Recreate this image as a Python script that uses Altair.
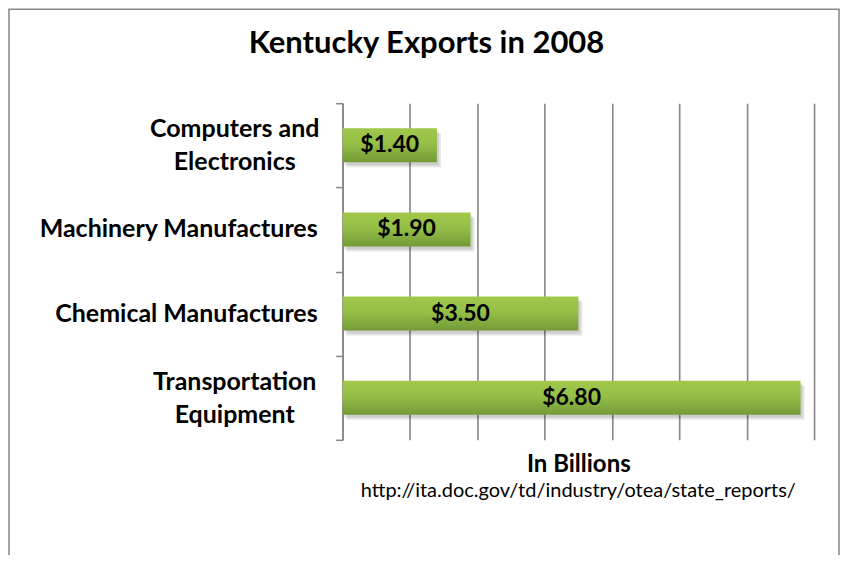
import altair as alt
import pandas as pd

categories = ["Computers and|Electronics", "Machinery Manufactures",
              "Chemical Manufactures", "Transportation|Equipment"]
values = [1.40, 1.90, 3.50, 6.80]
x_ticks = [0, 1, 2, 3, 4, 5, 6, 7]
title_text = "Kentucky Exports in 2008"
x_title = "In Billions"
source_text = "http://ita.doc.gov/td/industry/otea/state_reports/"

df = pd.DataFrame({"category": categories, "value": values})

FONT = "Lato"
GRID = "#868686"
W, H = 472, 337

y_enc = alt.Y(
    "category:N", sort=categories,
    scale=alt.Scale(paddingInner=0, paddingOuter=0),
    axis=alt.Axis(title=None, labels=False, tickBand="extent",
                  tickSize=7, tickColor=GRID, tickWidth=1.5,
                  domainColor=GRID, domainWidth=1.5, grid=False),
)
x_axis = alt.Axis(values=x_ticks, labels=False, ticks=False, domain=False,
                  grid=True, gridColor=GRID, gridWidth=1.6, title=x_title,
                  titleFont=FONT, titleFontSize=24, titleFontWeight="bold",
                  titleColor="black", titlePadding=13)
x_scale = alt.Scale(domain=[0, 7], nice=False)

base = alt.Chart(df)

border = alt.Chart(pd.DataFrame({"a": [0]})).mark_rect(
    fillOpacity=0, stroke=GRID, strokeWidth=1.5
).encode(x=alt.value(-334), x2=alt.value(497), y=alt.value(-94), y2=alt.value(480))

shadow1 = base.mark_bar(size=34, color="#000000", opacity=0.10,
                        xOffset=2, x2Offset=2, yOffset=3, y2Offset=3).encode(
    x=alt.X("value:Q", scale=x_scale, axis=x_axis), y=y_enc)
shadow2 = base.mark_bar(size=34, color="#000000", opacity=0.10,
                        xOffset=4, x2Offset=4, yOffset=5, y2Offset=5).encode(
    x=alt.X("value:Q", scale=x_scale, axis=x_axis), y=y_enc)

gradient = alt.Gradient(
    gradient="linear", x1=0, x2=0, y1=0, y2=1,
    stops=[alt.GradientStop(color="#9fc84c", offset=0),
           alt.GradientStop(color="#95bf46", offset=0.45),
           alt.GradientStop(color="#729b37", offset=1)],
)
bars = base.mark_bar(size=34, color=gradient).encode(
    x=alt.X("value:Q", scale=x_scale, axis=x_axis), y=y_enc)

labels = base.transform_calculate(
    mid="datum.value / 2", label="'$' + format(datum.value, '.2f')"
).mark_text(font=FONT, fontSize=23, fontWeight="bold", color="black",
            baseline="middle", align="center").encode(
    x=alt.X("mid:Q", scale=x_scale, axis=x_axis), y=y_enc, text="label:N")

# category labels (single-line right aligned, two-line centred like the original)
cat_single = base.transform_filter("indexof(datum.category, '|') < 0").mark_text(
    font=FONT, fontSize=25, fontWeight="bold", color="black",
    baseline="middle", align="right").encode(
    x=alt.value(-25), y=y_enc, text="category:N")
cat_multi = base.transform_filter("indexof(datum.category, '|') >= 0").mark_text(
    font=FONT, fontSize=25, fontWeight="bold", color="black",
    baseline="middle", align="center", lineBreak="|", lineHeight=33, dy=-16).encode(
    x=alt.value(-108), y=y_enc, text="category:N")

source = alt.Chart(pd.DataFrame({"t": [source_text]})).mark_text(
    font=FONT, fontSize=20, color="black", baseline="alphabetic", align="center"
).encode(x=alt.value(236), y=alt.value(394), text="t:N")

chart = alt.layer(border, shadow2, shadow1, bars, labels, cat_single, cat_multi,
                  source).properties(
    width=W, height=H,
    title=alt.TitleParams(text=title_text, font=FONT, fontSize=31,
                          fontWeight="bold", color="black", anchor="middle",
                          frame="group", dx=-152, offset=-51),
    autosize=alt.AutoSizeParams(type="none"),
    padding={"left": 335, "top": 95, "right": 26, "bottom": 115},
    background="white",
).configure_view(stroke=None)

chart.save("out.html", embed_options={"renderer": "svg", "actions": False})
